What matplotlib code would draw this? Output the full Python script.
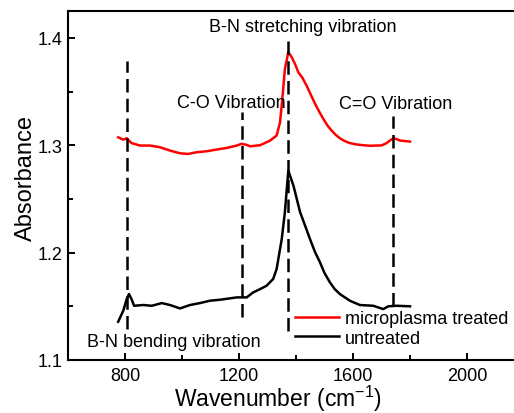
import matplotlib
matplotlib.use("Agg")
import matplotlib.pyplot as plt
from matplotlib.ticker import MultipleLocator

plt.rcParams['font.family'] = ['Liberation Sans', 'DejaVu Sans']

# Treated (red) spectrum
wn_treated = [776, 794, 806, 815, 823, 853, 888, 923, 958, 993, 1022, 1052, 1087, 1122,
              1157, 1192, 1209, 1227, 1239, 1274, 1309, 1332, 1344, 1352, 1361, 1373,
              1385, 1396, 1408, 1422, 1437, 1452, 1467, 1482, 1496, 1510, 1525, 1540,
              1554, 1570, 1589, 1610, 1636, 1660, 1683, 1700, 1718, 1730, 1742, 1755,
              1765, 1780, 1800]
ab_treated = [1.3074, 1.3052, 1.3065, 1.3040, 1.3020, 1.2997, 1.2997, 1.2981, 1.2950, 1.2925,
              1.2919, 1.2935, 1.2944, 1.2960, 1.2975, 1.2997, 1.3013, 1.3003, 1.2990,
              1.3000, 1.3043, 1.3090, 1.3214, 1.3430, 1.3710, 1.3867, 1.3820, 1.3760,
              1.3680, 1.3630, 1.3556, 1.3470, 1.3385, 1.3310, 1.3245, 1.3185, 1.3136,
              1.3095, 1.3065, 1.3040, 1.3020, 1.3008, 1.3000, 1.2995, 1.2997, 1.2998,
              1.3020, 1.3045, 1.3065, 1.3055, 1.3043, 1.3040, 1.3034]

# Untreated (black) spectrum
wn_untreated = [776, 794, 806, 814, 823, 832, 864, 894, 929, 958, 993, 1028, 1063, 1098,
                1133, 1168, 1192, 1227, 1250, 1274, 1297, 1320, 1332, 1350, 1361, 1373,
                1391, 1414, 1432, 1449, 1466, 1484, 1500, 1519, 1536, 1554, 1589, 1624,
                1671, 1706, 1724, 1753, 1800]
ab_untreated = [1.1356, 1.1459, 1.1567, 1.1614, 1.1567, 1.1505, 1.1512, 1.1505, 1.1530,
                1.1512, 1.1480, 1.1512, 1.1530, 1.1552, 1.1561, 1.1574, 1.1583, 1.1583,
                1.1630, 1.1660, 1.1692, 1.1755, 1.1847, 1.2127, 1.2376, 1.2763, 1.2624,
                1.2380, 1.2250, 1.2127, 1.2010, 1.1910, 1.1810, 1.1723, 1.1660, 1.1614,
                1.1552, 1.1512, 1.1505, 1.1474, 1.1500, 1.1505, 1.1500]

# Marker lines (x, y bottom, y top)
vline_x = [807, 1210, 1372, 1740]
vline_ymin = [1.129, 1.140, 1.127, 1.150]
vline_ymax = [1.378, 1.331, 1.397, 1.327]

# Annotations
ann_text = ["B-N stretching vibration", "C-O Vibration", "C=O Vibration", "B-N bending vibration"]
ann_x = [1425, 1172, 1751, 972]
ann_y = [1.411, 1.340, 1.339, 1.117]

legend_labels = ["microplasma treated", "untreated"]

fig = plt.figure(figsize=(5.14, 4.14), dpi=100)
W, H = 514, 414
ax = fig.add_axes([68 / W, 53 / H, 456 / W, 349 / H])

ax.plot(wn_treated, ab_treated, color='#ff0000', lw=1.8, label=legend_labels[0])
ax.plot(wn_untreated, ab_untreated, color='black', lw=1.8, label=legend_labels[1])

for x, y0, y1 in zip(vline_x, vline_ymin, vline_ymax):
    ax.plot([x, x], [y0, y1], color='black', lw=1.8, dashes=(5.4, 2.5))

for t, x, y in zip(ann_text, ann_x, ann_y):
    ax.text(x, y, t, ha='center', va='center', fontsize=13)

ax.set_xlim(600, 2200)
ax.set_ylim(1.1, 1.425)
ax.xaxis.set_minor_locator(MultipleLocator(200))
ax.yaxis.set_minor_locator(MultipleLocator(0.05))
ax.set_xticks([800, 1200, 1600, 2000])
ax.set_yticks([1.1, 1.2, 1.3, 1.4])
ax.set_yticklabels(['1.1', '1.2', '1.3', '1.4'])
ax.tick_params(which='major', direction='in', length=5, width=1.4, labelsize=13)
ax.tick_params(which='minor', direction='in', length=3.4, width=1.4)
ax.tick_params(axis='x', which='major', pad=5)
ax.tick_params(axis='y', which='major', pad=4)
for s in ax.spines.values():
    s.set_linewidth(1.5)

ax.set_xlabel('Wavenumber (cm$^{\\mathregular{-1}}$)', fontsize=16.5)
ax.set_ylabel('Absorbance', fontsize=17)
ax.xaxis.label.set_va('baseline')
ax.xaxis.set_label_coords(0.46, -0.131)
ax.yaxis.set_label_coords(-0.068, 0.524)

leg = ax.legend(loc='upper left', bbox_to_anchor=(295 / W, (H - 311) / H),
                bbox_transform=fig.transFigure, frameon=False, fontsize=13,
                handlelength=2.45, handletextpad=0.33, borderpad=0, borderaxespad=0,
                labelspacing=0.15)

fig.savefig('out.png', dpi=100)
